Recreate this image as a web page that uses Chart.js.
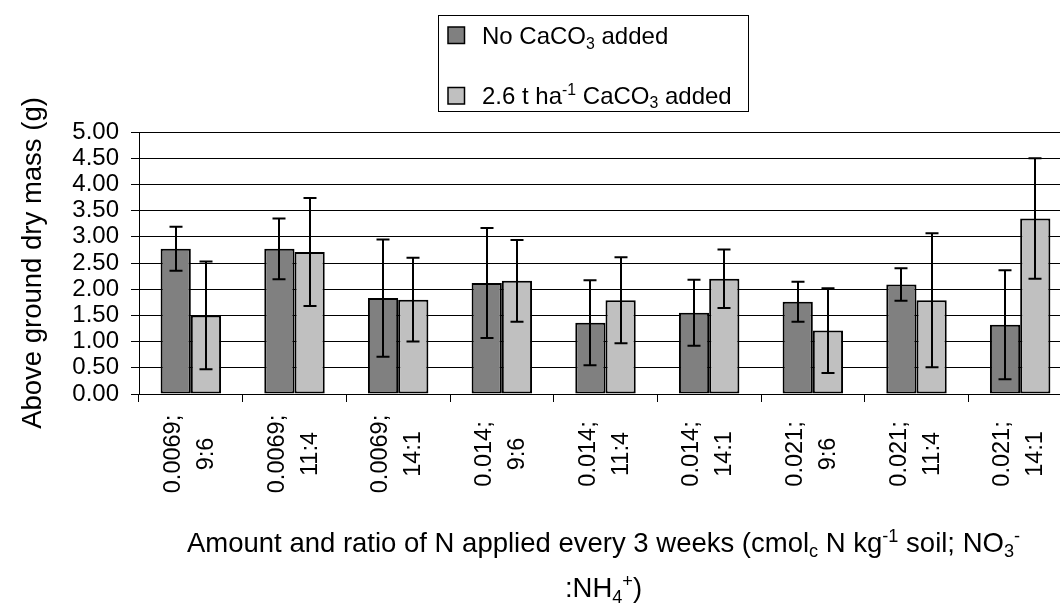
<!DOCTYPE html>
<html>
<head>
<meta charset="utf-8">
<script src="https://cdn.jsdelivr.net/npm/chart.js@4.4.1/dist/chart.umd.min.js"></script>
<style>
  html, body { margin: 0; padding: 0; background: #fff; overflow: hidden; }
  #wrap { width: 1060px; height: 604px; overflow: hidden; position: relative; }
  canvas { display: block; }
</style>
</head>
<body>
<div id="wrap"><canvas id="c" width="1080" height="604"></canvas></div>
<script>
// N amount (cmolc N/kg soil) and NO3-:NH4+ ratio for each treatment
const nAmount = ['0.0069;', '0.0069;', '0.0069;', '0.014;', '0.014;', '0.014;', '0.021;', '0.021;', '0.021;'];
const nRatio  = ['9:6', '11:4', '14:1', '9:6', '11:4', '14:1', '9:6', '11:4', '14:1'];

// Above ground dry mass (g) and error half-widths
const noLimeMass = [2.77, 2.77, 1.83, 2.12, 1.36, 1.55, 1.76, 2.09, 1.32];
const noLimeErr  = [0.42, 0.58, 1.12, 1.05, 0.81, 0.63, 0.38, 0.31, 1.04];
const limeMass   = [1.50, 2.71, 1.80, 2.16, 1.79, 2.20, 1.21, 1.79, 3.35];
const limeErr    = [1.03, 1.03, 0.80, 0.78, 0.82, 0.56, 0.81, 1.28, 1.15];

// Value axis range
const yMin = 0, yMax = 5, yStep = 0.5;

const FONT = "'Liberation Sans', Arial, sans-serif";
const DARK = '#808080', LIGHT = '#c0c0c0';

// Draw a run of text pieces, some of them sub- or superscript
function richWidth(ctx, parts, size) {
  let w = 0;
  for (const p of parts) {
    const s = p.k ? size * 0.66 : size;
    ctx.font = s + 'px ' + FONT;
    w += ctx.measureText(p.t).width;
  }
  return w;
}
function drawRich(ctx, parts, x, y, size) {
  ctx.textAlign = 'left';
  ctx.textBaseline = 'alphabetic';
  for (const p of parts) {
    const s = p.k ? size * 0.66 : size;
    let dy = 0;
    if (p.k === 'sub') dy = size * 0.2;
    if (p.k === 'sup') dy = -size * 0.36;
    ctx.font = s + 'px ' + FONT;
    ctx.fillText(p.t, x, y + dy);
    x += ctx.measureText(p.t).width;
  }
}

const extras = {
  id: 'extras',
  afterDatasetsDraw(chart) {
    const ctx = chart.ctx;
    const ys = chart.scales.y;
    // error bars
    ctx.save();
    ctx.strokeStyle = '#000';
    ctx.lineWidth = 2;
    chart.data.datasets.forEach((ds, di) => {
      const meta = chart.getDatasetMeta(di);
      meta.data.forEach((bar, i) => {
        const v = ds.data[i], e = ds.errors[i];
        const x = Math.round(bar.x);
        const top = ys.getPixelForValue(v + e);
        const bot = ys.getPixelForValue(v - e);
        ctx.beginPath();
        ctx.moveTo(x, top); ctx.lineTo(x, bot);
        ctx.moveTo(x - 6.5, top); ctx.lineTo(x + 6.5, top);
        ctx.moveTo(x - 6.5, bot); ctx.lineTo(x + 6.5, bot);
        ctx.stroke();
      });
    });
    ctx.restore();
  },
  afterDraw(chart) {
    const ctx = chart.ctx;
    const xs = chart.scales.x;
    ctx.save();
    ctx.fillStyle = '#000';

    // category labels, two centred lines turned upright
    ctx.font = '23.5px ' + FONT;
    ctx.textAlign = 'center';
    ctx.textBaseline = 'alphabetic';
    chart.data.labels.forEach((lab, i) => {
      const cx = xs.getPixelForTick(i);
      [[lab[0], -11], [lab[1], 22]].forEach(([t, off]) => {
        ctx.save();
        ctx.translate(cx + off, 454);
        ctx.rotate(-Math.PI / 2);
        ctx.fillText(t, 0, 0);
        ctx.restore();
      });
    });

    // value axis title
    ctx.save();
    ctx.font = '27.5px ' + FONT;
    ctx.textAlign = 'center';
    ctx.translate(41, (chart.chartArea.top + chart.chartArea.bottom) / 2);
    ctx.rotate(-Math.PI / 2);
    ctx.fillText('Above ground dry mass (g)', 0, 0);
    ctx.restore();

    // category axis title
    const t1 = [
      { t: 'Amount and ratio of N applied every 3 weeks (cmol' }, { t: 'c', k: 'sub' },
      { t: ' N kg' }, { t: '-1', k: 'sup' }, { t: ' soil; NO' }, { t: '3', k: 'sub' }, { t: '-', k: 'sup' }
    ];
    const t2 = [{ t: ':NH' }, { t: '4', k: 'sub' }, { t: '+', k: 'sup' }, { t: ')' }];
    const tc = 603.5;
    drawRich(ctx, t1, tc - richWidth(ctx, t1, 27.5) / 2, 551.5, 27.5);
    drawRich(ctx, t2, tc - richWidth(ctx, t2, 27.5) / 2, 597, 27.5);

    // legend
    ctx.strokeStyle = '#000';
    ctx.lineWidth = 1;
    ctx.fillStyle = '#fff';
    ctx.fillRect(438.5, 15.5, 310, 96);
    ctx.strokeRect(438.5, 15.5, 310, 96);
    const rows = [
      { c: DARK, y: 27, base: 44.3, parts: [{ t: 'No CaCO' }, { t: '3', k: 'sub' }, { t: ' added' }] },
      { c: LIGHT, y: 87.5, base: 103.5, parts: [{ t: '2.6 t ha' }, { t: '-1', k: 'sup' }, { t: ' CaCO' }, { t: '3', k: 'sub' }, { t: ' added' }] }
    ];
    rows.forEach(r => {
      ctx.fillStyle = r.c;
      ctx.fillRect(448, r.y, 16.5, 16.5);
      ctx.lineWidth = 1.5;
      ctx.strokeRect(448, r.y, 16.5, 16.5);
      ctx.fillStyle = '#000';
      drawRich(ctx, r.parts, 482, r.base, 24);
    });
    ctx.restore();
  }
};

new Chart(document.getElementById('c'), {
  type: 'bar',
  data: {
    labels: nAmount.map((a, i) => [a, nRatio[i]]),
    datasets: [
      { label: 'No CaCO3 added', data: noLimeMass, errors: noLimeErr,
        backgroundColor: DARK, borderColor: '#000', borderWidth: 2, borderSkipped: false },
      { label: '2.6 t ha-1 CaCO3 added', data: limeMass, errors: limeErr,
        backgroundColor: LIGHT, borderColor: '#000', borderWidth: 2, borderSkipped: false }
    ]
  },
  options: {
    responsive: false,
    animation: false,
    events: [],
    categoryPercentage: 0.583,
    barPercentage: 1.0,
    layout: { padding: { top: 132, left: 0, right: 8, bottom: 0 } },
    plugins: { legend: { display: false }, tooltip: { enabled: false } },
    scales: {
      x: {
        afterFit(s) { s.height = 210; },
        grid: { drawOnChartArea: false, drawTicks: true, tickLength: 8, color: '#000', lineWidth: 1, offset: true },
        border: { color: '#000', width: 1 },
        ticks: { display: false }
      },
      y: {
        min: yMin, max: yMax,
        afterFit(s) { s.width = 139; },
        grid: { color: '#000', lineWidth: 1, tickLength: 8, drawTicks: true },
        border: { color: '#000', width: 1 },
        ticks: {
          stepSize: yStep, padding: 12, color: '#000', autoSkip: false,
          font: { family: FONT, size: 24 },
          callback: v => Number(v).toFixed(2)
        }
      }
    }
  },
  plugins: [extras]
});
</script>
</body>
</html>
